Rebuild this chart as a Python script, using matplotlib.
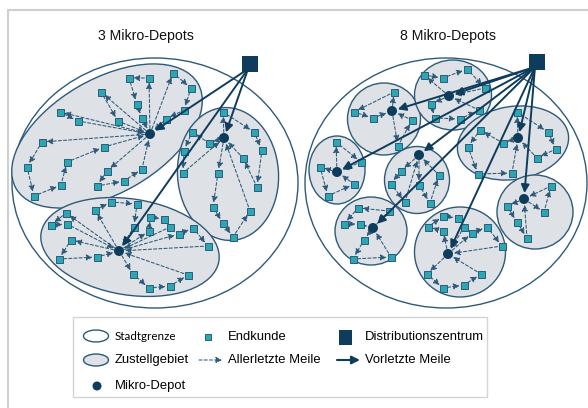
import numpy as np
import matplotlib.pyplot as plt
from matplotlib.patches import Ellipse, FancyArrowPatch, Rectangle, Circle

plt.rcParams['font.family'] = ['Liberation Sans', 'DejaVu Sans']

NAVY = '#0e3c5c'
EDGE = '#2e5a7a'
TEAL = '#2ba6b3'
ZONE = '#dee1e5'

# ---- data (pixel coordinates) ----
titles = ['3 Mikro-Depots', '8 Mikro-Depots']
title_pos = [(146, 36), (448, 36)]
dc_pos = [(250, 64), (537, 62)]
# city boundary: cx, cy, w, h
city = [(155, 183, 286, 250), (446, 183, 282, 250)]

# delivery areas: cx, cy, w, h, angle
zones_left = [(107, 136, 210, 114, -30), (228, 174, 101, 133, -4), (130, 247, 180, 96, 9)]
zones_right = [(384, 119, 73, 72, 0), (453, 95, 77, 70, 0), (337, 170, 56, 68, 0),
               (417, 180, 65, 67, 0), (513, 143, 112, 73, -9), (371, 231, 72, 68, 0),
               (460, 252, 91, 90, 0), (535, 212, 76, 74, 0)]

depots_left = [(150, 134), (224, 138), (119, 251)]
depots_right = [(392, 111), (449, 96), (337, 172), (419, 155),
                (518, 138), (373, 228), (448, 254), (524, 199)]

# customer tours per depot (depot -> c1 -> ... -> ck -> depot)
routes_left = [
    [[(149, 78), (129, 78), (137, 104), (142, 118)],
     [(173, 73), (191, 88), (184, 110), (166, 119)],
     [(101, 92), (118, 121)],
     [(60, 112), (78, 121)],
     [(42, 142), (27, 167), (34, 196), (61, 185), (67, 162), (104, 147)],
     [(107, 171), (97, 186), (124, 181), (142, 169)]],
    [[(223, 112), (254, 132), (262, 150), (257, 187), (243, 158)],
     [(209, 143), (192, 132), (184, 151), (183, 173)],
     [(218, 173), (213, 207), (223, 223), (233, 237), (250, 211)]],
    [[(95, 210), (111, 202), (137, 204), (134, 227)],
     [(66, 213), (51, 225), (67, 224)],
     [(149, 231), (150, 217), (164, 219), (170, 227)],
     [(179, 234), (193, 228), (208, 246)],
     [(71, 240), (59, 259), (97, 257)],
     [(133, 274), (149, 288), (170, 286), (188, 275)]],
]
routes_right = [
    [[(394, 92), (354, 112), (373, 118)],
     [(398, 146), (412, 120)]],
    [[(424, 75), (443, 78), (467, 69), (485, 88)],
     [(431, 104), (435, 118), (460, 119), (479, 110)]],
    [[(336, 142), (361, 162)],
     [(320, 167), (328, 196), (354, 184)]],
    [[(401, 171), (391, 184), (405, 202)],
     [(419, 185), (430, 203), (439, 175)]],
    [[(503, 143), (480, 130), (468, 147), (478, 174), (512, 173)],
     [(517, 112), (548, 132), (556, 149), (537, 158)]],
    [[(389, 211), (358, 208), (344, 224), (360, 224)],
     [(364, 240), (353, 259), (391, 257)]],
    [[(443, 231), (428, 227), (443, 216), (458, 218), (464, 227)],
     [(472, 233), (487, 227), (502, 246)],
     [(427, 274), (443, 288), (464, 285), (481, 274)]],
    [[(544, 212), (551, 186)],
     [(507, 206), (517, 222), (527, 238)]],
]

legend_labels = ['Stadtgrenze', 'Zustellgebiet', 'Mikro-Depot', 'Endkunde',
                 'Allerletzte Meile', 'Distributionszentrum', 'Vorletzte Meile']

fig = plt.figure(figsize=(5.88, 4.08), dpi=100)
ax = fig.add_axes([0, 0, 1, 1])
ax.set_xlim(0, 588)
ax.set_ylim(408, 0)
ax.axis('off')


def shorten(p, q, ra, rb):
    p, q = np.array(p, float), np.array(q, float)
    u = (q - p) / np.hypot(*(q - p))
    return p + u * ra, q - u * rb


def dashed_arrow(p, q, ra=4.5, rb=4.5):
    a, b = shorten(p, q, ra, rb)
    ax.add_patch(FancyArrowPatch(a, b, arrowstyle='-|>,head_length=0.7,head_width=0.35',
                                 mutation_scale=5, lw=0.75, color=EDGE,
                                 linestyle=(0, (3, 2)), shrinkA=0, shrinkB=0, zorder=3))


def solid_arrow(p, q, rb=6, lw=1.4):
    a, b = shorten(p, q, 0, rb)
    ax.add_patch(FancyArrowPatch(a, b, arrowstyle='-|>,head_length=0.8,head_width=0.4',
                                 mutation_scale=6, lw=lw, color=NAVY,
                                 shrinkA=0, shrinkB=0, zorder=5))


def customer(x, y, s=7):
    ax.add_patch(Rectangle((x - s / 2, y - s / 2), s, s, fc=TEAL, ec=EDGE, lw=0.7, zorder=4))


def depot(x, y, r=5):
    ax.add_patch(Circle((x, y), r, fc=NAVY, ec=NAVY, lw=0, zorder=6))


# outer frame
ax.plot([8, 8, 588], [408, 10, 10], color='#cfcfcf', lw=1.5, zorder=0)

panels = [(zones_left, depots_left, routes_left), (zones_right, depots_right, routes_right)]
for i, (zones, depots, routes) in enumerate(panels):
    cx, cy, w, h = city[i]
    ax.add_patch(Ellipse((cx, cy), w, h, fc='white', ec=EDGE, lw=1.0, zorder=1))
    for (zx, zy, zw, zh, ang) in zones:
        ax.add_patch(Ellipse((zx, zy), zw, zh, angle=ang, fc=ZONE, ec=EDGE, lw=1.0, zorder=2))
    for d, tours in zip(depots, routes):
        for tour in tours:
            pts = [d] + tour + [d]
            for k in range(len(pts) - 1):
                ra = 5.5 if k == 0 else 4.5
                rb = 6 if k == len(pts) - 2 else 4.5
                dashed_arrow(pts[k], pts[k + 1], ra, rb)
            for (x, y) in tour:
                customer(x, y)
        depot(*d)
    dx, dy = dc_pos[i]
    start = (dx - 2, dy + 5)
    for d in depots:
        solid_arrow(start, d)
    ax.add_patch(Rectangle((dx - 8, dy - 8), 16, 16, fc=NAVY, ec=NAVY, lw=0, zorder=7))
    ax.text(*title_pos[i], titles[i], ha='center', va='center', fontsize=10.2, color='#111111')

# legend
ax.add_patch(Rectangle((73, 317), 414, 80, fc='white', ec='#d4d4d4', lw=1.0, zorder=1))
ax.add_patch(Ellipse((96, 336), 25, 12, fc='white', ec=EDGE, lw=1.0, zorder=2))
ax.add_patch(Ellipse((96, 360), 25, 12, fc=ZONE, ec=EDGE, lw=1.0, zorder=2))
depot(97, 386, 4.5)
customer(208, 337, 6)
dashed_arrow((199, 360), (222, 360), 0, 0)
ax.add_patch(Rectangle((339, 330), 13, 15, fc=NAVY, lw=0, zorder=5))
solid_arrow((337, 360), (360, 360), 0, lw=1.5)

ax.text(115, 336, legend_labels[0], fontsize=8.4, va='center', family=['Lato', 'DejaVu Sans'])
ax.text(115, 360, legend_labels[1], fontsize=9.4, va='center')
ax.text(115, 386, legend_labels[2], fontsize=9.4, va='center')
ax.text(228, 337, legend_labels[3], fontsize=9.4, va='center')
ax.text(228, 360, legend_labels[4], fontsize=9.4, va='center')
ax.text(365, 337, legend_labels[5], fontsize=9.4, va='center')
ax.text(365, 360, legend_labels[6], fontsize=9.4, va='center')

fig.savefig('out.png', dpi=100)
